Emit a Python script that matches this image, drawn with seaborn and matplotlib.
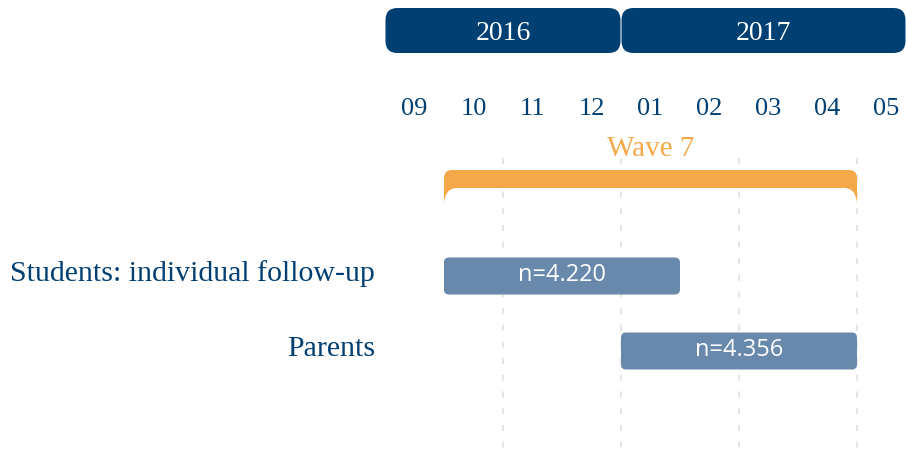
import numpy as np
import seaborn as sns
import matplotlib.pyplot as plt
from matplotlib.patches import FancyBboxPatch, PathPatch
from matplotlib.path import Path

# data
months = ["09", "10", "11", "12", "01", "02", "03", "04", "05"]
years = ["2016", "2017"]
year_start = [0, 4]
year_end = [4, 8.83]
groups = ["Students: individual follow-up", "Parents"]
group_start = [1, 4]
group_end = [5, 8]
n_labels = ["n=4.220", "n=4.356"]
wave_label = "Wave 7"
wave_start = 1
wave_end = 8
grid_months = [2, 4, 6, 8]

dark = "#003f72"
orange = "#f5a84a"
barblue = "#6889ab"

sns.set_theme(style="white")
serif = ["Liberation Serif", "DejaVu Serif"]

fig = plt.figure(figsize=(9.06, 4.55), dpi=100)
ax = fig.add_axes([385 / 906, 0, 521 / 906, 1])
px = 1 / 59  # one pixel in month units
ax.set_xlim(0, 521 * px)
ax.set_ylim(455, 0)
ax.axis("off")

# year header
for y, s, e in zip(years, year_start, year_end):
    ax.add_patch(FancyBboxPatch((s + 0.5 * px, 8), e - s - 1 * px, 45,
                                boxstyle="round,pad=0,rounding_size=%f" % (12 * px),
                                mutation_aspect=59, fc=dark, ec="none", clip_on=False))
    ax.text((s + e) / 2, 33, y, color="white", ha="center", va="center",
            fontsize=20, family=serif)

# month labels
for i, m in enumerate(months):
    ax.text(i + 0.5, 109, m, color=dark, ha="center", va="center", fontsize=19, family=serif)

# grid
for g in grid_months:
    ax.plot([g, g], [158, 455], color="#e6e6e6", lw=1.5, ls=(0, (3, 5)), zorder=0,
            clip_on=False)

# wave bracket
x0, x1 = wave_start, wave_end
r = 8 * px
verts = [(x0, 204), (x0, 178), (x0, 170), (x0 + r, 170),
         (x1 - r, 170), (x1, 170), (x1, 178),
         (x1, 204), (x1 - 1 * px, 188), (x1 - 13 * px, 188),
         (x0 + 13 * px, 188), (x0 + 1 * px, 188), (x0, 204), (x0, 204)]
codes = [Path.MOVETO, Path.LINETO, Path.CURVE3, Path.CURVE3,
         Path.LINETO, Path.CURVE3, Path.CURVE3,
         Path.LINETO, Path.CURVE3, Path.CURVE3,
         Path.LINETO, Path.CURVE3, Path.CURVE3, Path.CLOSEPOLY]
ax.add_patch(PathPatch(Path(verts, codes), fc=orange, ec="none", zorder=2))
ax.text((x0 + x1) / 2, 149, wave_label, color=orange, ha="center", va="center",
        fontsize=21, family=serif)

# group bars
row_y = [276, 351]
for yy, g, s, e, n in zip(row_y, groups, group_start, group_end, n_labels):
    ax.add_patch(FancyBboxPatch((s, yy - 18.5), e - s, 37,
                                boxstyle="round,pad=0,rounding_size=%f" % (5 * px),
                                mutation_aspect=59, fc=barblue, ec="none", zorder=2))
    ax.text((s + e) / 2, yy - 1, n, color="white", ha="center", va="center", fontsize=17,
            family=["Open Sans", "DejaVu Sans"], zorder=3)
    ax.text(-10 * px, yy - 2, g, color=dark, ha="right", va="center", fontsize=21.5,
            family=serif, clip_on=False)

fig.savefig("out.png", dpi=100)
